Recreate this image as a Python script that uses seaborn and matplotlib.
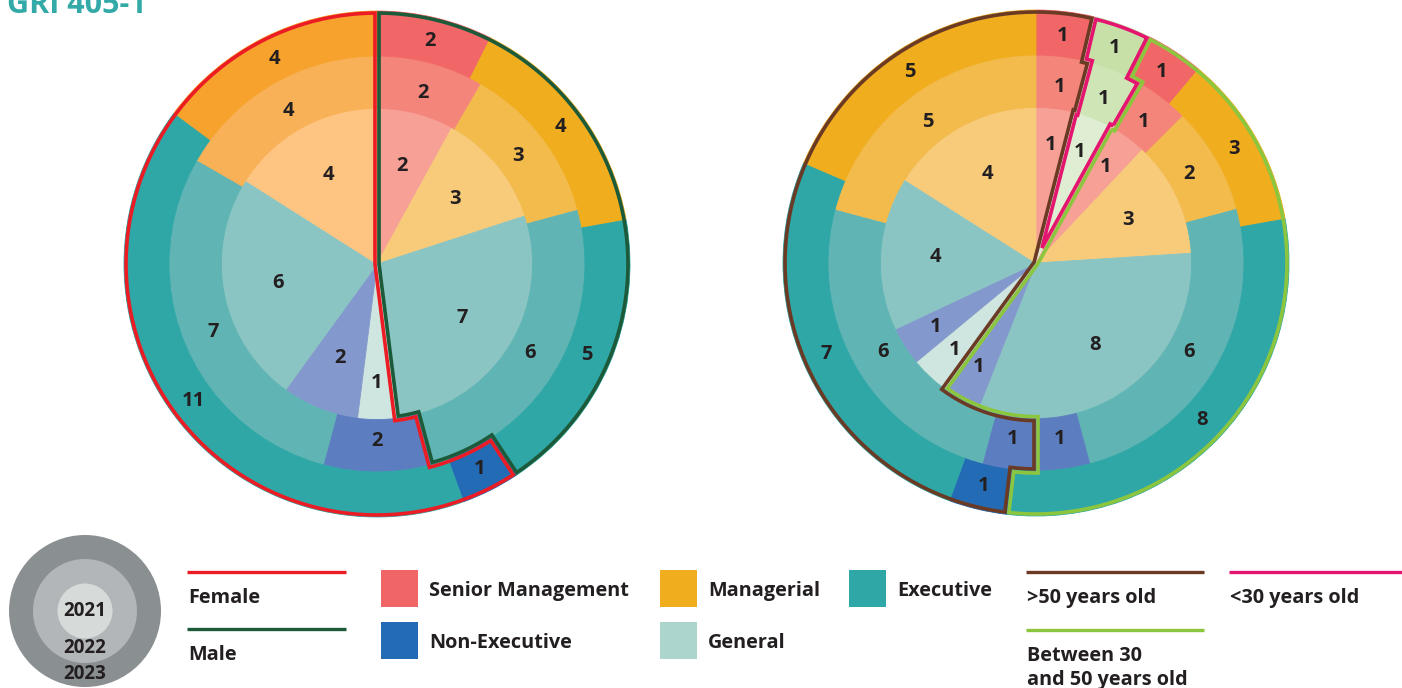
import numpy as np
import matplotlib
matplotlib.use('Agg')
import matplotlib.pyplot as plt
from matplotlib.patches import Circle, Rectangle, Polygon
import seaborn as sns

# ---- data: one list per ring, clockwise from 12 o'clock (2021 inner -> 2023 outer)
years = ['2021', '2022', '2023']

gender_2021_group = ['Male', 'Male', 'Male', 'Female', 'Female', 'Female', 'Female']
gender_2021_cat = ['Senior Management', 'Managerial', 'Executive', 'General', 'Non-Executive', 'Executive', 'Managerial']
gender_2021_val = [2, 3, 7, 1, 2, 6, 4]

gender_2022_group = ['Male', 'Male', 'Male', 'Female', 'Female', 'Female']
gender_2022_cat = ['Senior Management', 'Managerial', 'Executive', 'Non-Executive', 'Executive', 'Managerial']
gender_2022_val = [2, 3, 6, 2, 7, 4]

gender_2023_group = ['Male', 'Male', 'Male', 'Female', 'Female', 'Female']
gender_2023_cat = ['Senior Management', 'Managerial', 'Executive', 'Non-Executive', 'Executive', 'Managerial']
gender_2023_val = [2, 4, 5, 1, 11, 4]

age_2021_group = ['>50', '<30', '30-50', '30-50', '30-50', '30-50', '>50', '>50', '>50', '>50']
age_2021_cat = ['Senior Management', 'General', 'Senior Management', 'Managerial', 'Executive',
                'Non-Executive', 'General', 'Non-Executive', 'Executive', 'Managerial']
age_2021_val = [1, 1, 1, 3, 8, 1, 1, 1, 4, 4]

age_2022_group = ['>50', '<30', '30-50', '30-50', '30-50', '30-50', '>50', '>50', '>50']
age_2022_cat = ['Senior Management', 'General', 'Senior Management', 'Managerial', 'Executive',
                'Non-Executive', 'Non-Executive', 'Executive', 'Managerial']
age_2022_val = [1, 1, 1, 2, 6, 1, 1, 6, 5]

age_2023_group = ['>50', '<30', '30-50', '30-50', '30-50', '>50', '>50', '>50']
age_2023_cat = ['Senior Management', 'General', 'Senior Management', 'Managerial', 'Executive',
                'Non-Executive', 'Executive', 'Managerial']
age_2023_val = [1, 1, 1, 3, 8, 1, 7, 5]

legend_categories = ['Senior Management', 'Non-Executive', 'Managerial', 'General', 'Executive']
gender_labels = ['Female', 'Male']
age_labels = ['>50 years old', '<30 years old', 'Between 30\nand 50 years old']

# shades per ring: 2021 (light) -> 2023 (full)
shades = {
    'Senior Management': ['#f6a096', '#f4857b', '#f16767'],
    'Non-Executive': ['#8398cc', '#5c7ec0', '#236bb4'],
    'Managerial': ['#f7cb7a', '#f3ba4c', '#f0ad1e'],
    'Managerial F': ['#fdc581', '#f9b157', '#f7a22c'],
    'Executive': ['#8ac5c4', '#60b5b4', '#2ea7a6'],
    'General': ['#cfe5df', '#b9dcd4', '#acd5cd'],
    'Under 30': ['#dfeed2', '#cfe5b5', '#c6e0a8'],
}
legend_colors = ['#f06666', '#236bb5', '#f0ad1d', '#acd5cd', '#2ea7a6']
outline_colors = {'Female': '#ec1c24', 'Male': '#1c5a3a',
                  '>50': '#6b3a25', '<30': '#e4156e', '30-50': '#8cc63f'}

sns.set_theme(style='white')
plt.rcParams['font.family'] = ['Open Sans', 'DejaVu Sans']

RADII = [0.615, 0.822, 1.0]
TXT = '#231f20'


def slice_color(group, cat, ring):
    key = cat
    if group == '<30':
        key = 'Under 30'
    elif group == 'Female' and cat == 'Managerial':
        key = 'Managerial F'
    return shades[key][ring]


def arc_pts(r, t0, t1):
    n = max(2, int(abs(t1 - t0)) + 2)
    return [(r, t) for t in np.linspace(t0, t1, n)]


def outline_xy(intervals):
    pts = [(0.0, intervals[0][0])]
    for k in range(len(intervals)):
        a = intervals[k][0]
        if k > 0:
            pts += arc_pts(RADII[k - 1], intervals[k - 1][0], a)
        pts.append((RADII[k], a))
    pts += arc_pts(RADII[-1], intervals[-1][0], intervals[-1][1])
    for k in range(len(intervals) - 1, -1, -1):
        b = intervals[k][1]
        r_low = RADII[k - 1] if k > 0 else 0.0
        pts.append((r_low, b))
        if k > 0:
            pts += arc_pts(r_low, b, intervals[k - 1][1])
    xy = []
    for r, t in pts:
        p = (r * np.sin(np.radians(t)), r * np.cos(np.radians(t)))
        if not xy or np.hypot(p[0] - xy[-1][0], p[1] - xy[-1][1]) > 1e-9:
            xy.append(p)
    if np.hypot(xy[0][0] - xy[-1][0], xy[0][1] - xy[-1][1]) < 1e-9:
        xy.pop()
    return np.array(xy)


def inset(P, d):
    x, y = P[:, 0], P[:, 1]
    area = 0.5 * np.sum(x * np.roll(y, -1) - np.roll(x, -1) * y)
    E = np.roll(P, -1, axis=0) - P
    E = E / np.linalg.norm(E, axis=1)[:, None]
    N = np.stack([-E[:, 1], E[:, 0]], axis=1)
    if area < 0:
        N = -N
    Np = np.roll(N, 1, axis=0)
    dot = np.sum(N * Np, axis=1)
    return P + d * (N + Np) / (1 + dot)[:, None]


def group_interval(groups, vals, name):
    cum = np.concatenate([[0], np.cumsum(vals)]) / sum(vals) * 360
    n = len(groups)
    idx = [i for i in range(n) if groups[i] == name]
    start = [i for i in idx if groups[(i - 1) % n] != name][0]
    a = cum[start]
    span = sum(cum[i + 1] - cum[i] for i in idx)
    return (a, a + span)


def draw_chart(ax, rings, order):
    inner = [0.0] + RADII[:-1]
    for i, (groups, cats, vals) in enumerate(rings):
        cols = [slice_color(g, c, i) for g, c in zip(groups, cats)]
        wedges, _ = ax.pie(vals, radius=RADII[i], colors=cols, startangle=90, counterclock=False,
                           wedgeprops=dict(width=RADII[i] - inner[i], linewidth=0.6))
        for w, c in zip(wedges, cols):
            w.set_edgecolor(c)
        cum = np.concatenate([[0], np.cumsum(vals)]) / sum(vals) * 360
        for k, v in enumerate(vals):
            span = cum[k + 1] - cum[k]
            mid = np.radians((cum[k] + cum[k + 1]) / 2)
            if i == 2:
                r = 0.905
            elif i == 1:
                r = 0.70
            else:
                r = 0.47 if span < 20 else 0.40
            ax.text(r * np.sin(mid), r * np.cos(mid), str(v), ha='center', va='center',
                    fontsize=14.5, fontweight='bold', color=TXT, zorder=10)
    for name in order:
        iv = [group_interval(g, v, name) for g, c, v in rings]
        P = inset(outline_xy(iv), 0.008)
        ax.add_patch(Polygon(P, closed=True, fill=False, edgecolor=outline_colors[name],
                             linewidth=2.6, joinstyle='miter', zorder=8))
    lim = 1.03
    ax.set_xlim(-lim, lim)
    ax.set_ylim(-lim, lim)
    ax.set_aspect('equal')
    ax.set_axis_off()


W, H = 1402, 688
R_PX = 253
fig = plt.figure(figsize=(W / 100, H / 100), dpi=100, facecolor='white')


def pie_axes(cx, cy):
    half = 1.03 * R_PX
    return fig.add_axes([(cx - half) / W, (H - cy - half) / H, 2 * half / W, 2 * half / H])


gender_rings = [(gender_2021_group, gender_2021_cat, gender_2021_val),
                (gender_2022_group, gender_2022_cat, gender_2022_val),
                (gender_2023_group, gender_2023_cat, gender_2023_val)]
age_rings = [(age_2021_group, age_2021_cat, age_2021_val),
             (age_2022_group, age_2022_cat, age_2022_val),
             (age_2023_group, age_2023_cat, age_2023_val)]

draw_chart(pie_axes(377, 264), gender_rings, ['Male', 'Female'])
draw_chart(pie_axes(1036, 263), age_rings, ['>50', '30-50', '<30'])

# ---- overlay for title and legend (pixel coordinates)
lg = fig.add_axes([0, 0, 1, 1])
lg.set_xlim(0, W)
lg.set_ylim(H, 0)
lg.set_axis_off()

lg.text(7, 13, 'GRI 405-1', fontsize=22, fontweight='bold', color='#33aaa8', va='baseline', ha='left')

# year rings legend
for rad, col in zip([76, 52, 27.5], ['#8a8f91', '#b2b6b9', '#d6dbda']):
    lg.add_patch(Circle((85, 611), rad, facecolor=col, edgecolor='none'))
for yr, yy in zip(years, [611, 648, 674]):
    lg.text(85, yy, yr, ha='center', va='center', fontsize=13.5, fontweight='bold', color=TXT)

fs = 14.3
# gender lines
for lab, col, yy in zip(gender_labels, [outline_colors['Female'], outline_colors['Male']], [572, 629]):
    lg.plot([187, 346], [yy, yy], color=col, lw=2.4, solid_capstyle='butt')
    lg.text(188, yy + 31, lab, fontsize=fs, fontweight='bold', color=TXT, va='baseline')

# category squares
sq_pos = [(381, 570), (381, 622), (660, 570), (660, 622), (849, 570)]
for lab, col, (x0, y0) in zip(legend_categories, legend_colors, sq_pos):
    lg.add_patch(Rectangle((x0, y0), 37, 37, facecolor=col, edgecolor='none'))
    lg.text(x0 + 48, y0 + 26, lab, fontsize=fs, fontweight='bold', color=TXT, va='baseline')

# age lines
age_cols = [outline_colors['>50'], outline_colors['<30'], outline_colors['30-50']]
age_pos = [(1026, 1204, 572), (1229, 1402, 572), (1026, 1204, 630)]
for lab, col, (x0, x1, yy) in zip(age_labels, age_cols, age_pos):
    lg.plot([x0, x1], [yy, yy], color=col, lw=2.4, solid_capstyle='butt')
    for j, line in enumerate(lab.split('\n')):
        lg.text(x0 + 1, yy + 31 + 24 * j, line, fontsize=fs, fontweight='bold', color=TXT,
                va='baseline')

fig.savefig('out.png', dpi=100, facecolor='white')
